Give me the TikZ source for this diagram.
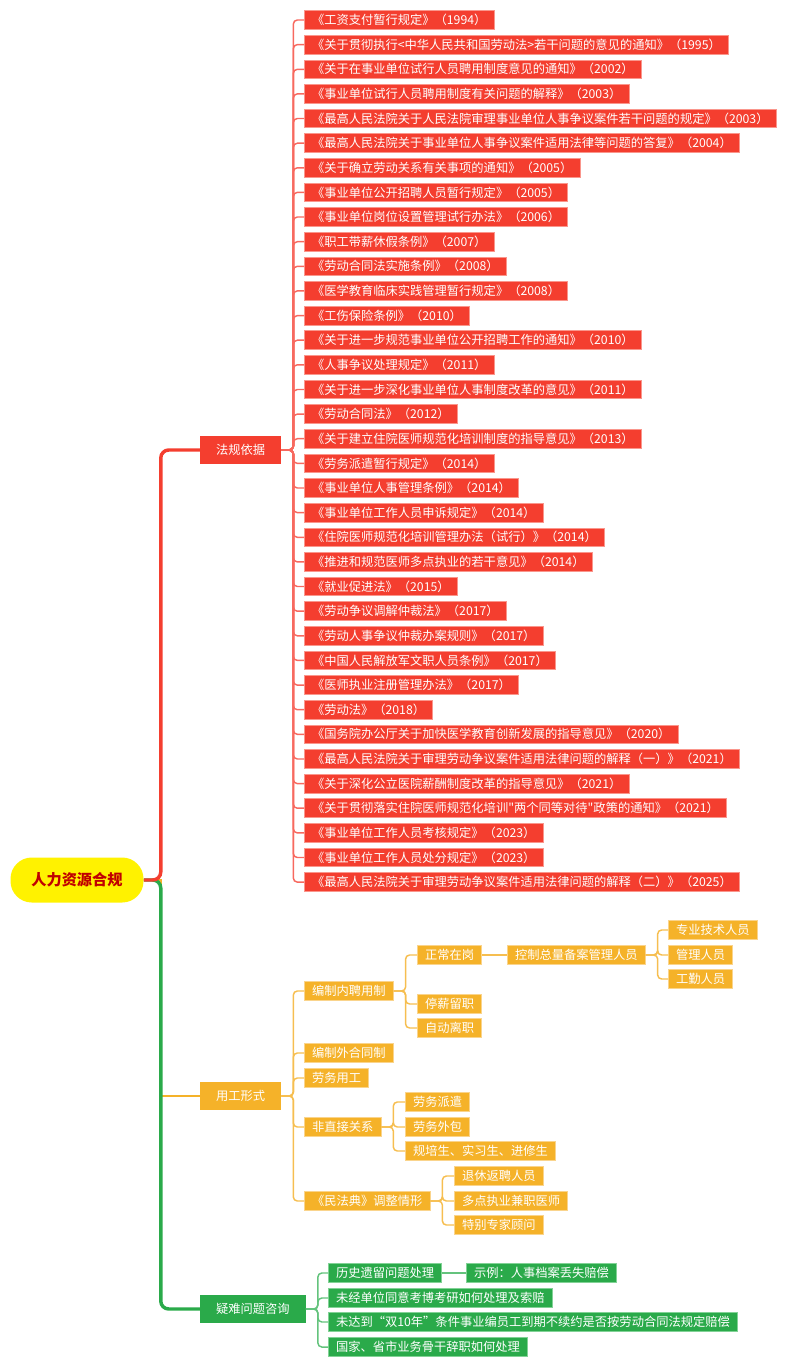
\documentclass[tikz,border=0pt]{standalone}
\usepackage{fontspec}
\setmainfont{Noto Sans CJK SC}
\definecolor{fgred}{RGB}{244,62,47}
\definecolor{fgedge}{RGB}{250,150,140}
\definecolor{fgline}{RGB}{247,105,95}
\definecolor{ygorange}{RGB}{245,178,41}
\definecolor{ygedge}{RGB}{250,212,140}
\definecolor{ygline}{RGB}{246,190,80}
\definecolor{yngreen}{RGB}{42,170,74}
\definecolor{ynedge}{RGB}{130,210,150}
\definecolor{ynline}{RGB}{100,195,125}
\definecolor{rootred}{RGB}{192,0,0}

\tikzset{
  box/.style={anchor=west, text=white, line width=0.6pt, minimum height=14pt,
    inner xsep=5.7pt, inner ysep=0pt, font=\fontsize{9.2}{11}\selectfont},
  law/.style={box, fill=fgred, draw=fgedge},
  ygbox/.style={box, fill=ygorange, draw=ygedge},
  ynbox/.style={box, fill=yngreen, draw=ynedge},
  branch/.style={anchor=west, text=white, minimum height=21pt, inner xsep=11.9pt,
    inner ysep=0pt, font=\fontsize{9.2}{11}\selectfont},
  sub/.style={line width=1.1pt, rounded corners=3pt},
}

\begin{document}
\begin{tikzpicture}[x=0.75pt, y=-0.75pt]
\useasboundingbox (0,0) rectangle (800,1367);

% root and first level
\node [fill=yellow, rounded corners=16pt, minimum width=99.75pt, minimum height=33.75pt,
  text=rootred, font=\fontsize{11.4}{13}\selectfont\bfseries] (root) at (77,880) {人力资源合规};
\node [branch, fill=fgred] (fg) at (200,450) {法规依据};
\node [branch, fill=ygorange] (yg) at (200,1096) {用工形式};
\node [branch, fill=yngreen] (yn) at (200,1309) {疑难问题咨询};

% laws
\node [law] (l1) at (304,20) {《工资支付暂行规定》（1994）};
\node [law] (l2) at (304,44.6) {《关于贯彻执行<中华人民共和国劳动法>若干问题的意见的通知》（1995）};
\node [law] (l3) at (304,69.3) {《关于在事业单位试行人员聘用制度意见的通知》（2002）};
\node [law] (l4) at (304,93.9) {《事业单位试行人员聘用制度有关问题的解释》（2003）};
\node [law] (l5) at (304,118.5) {《最高人民法院关于人民法院审理事业单位人事争议案件若干问题的规定》（2003）};
\node [law] (l6) at (304,143.2) {《最高人民法院关于事业单位人事争议案件适用法律等问题的答复》（2004）};
\node [law] (l7) at (304,167.8) {《关于确立劳动关系有关事项的通知》（2005）};
\node [law] (l8) at (304,192.4) {《事业单位公开招聘人员暂行规定》（2005）};
\node [law] (l9) at (304,217.0) {《事业单位岗位设置管理试行办法》（2006）};
\node [law] (l10) at (304,241.7) {《职工带薪休假条例》（2007）};
\node [law] (l11) at (304,266.3) {《劳动合同法实施条例》（2008）};
\node [law] (l12) at (304,290.9) {《医学教育临床实践管理暂行规定》（2008）};
\node [law] (l13) at (304,315.6) {《工伤保险条例》（2010）};
\node [law] (l14) at (304,340.2) {《关于进一步规范事业单位公开招聘工作的通知》（2010）};
\node [law] (l15) at (304,364.8) {《人事争议处理规定》（2011）};
\node [law] (l16) at (304,389.5) {《关于进一步深化事业单位人事制度改革的意见》（2011）};
\node [law] (l17) at (304,414.1) {《劳动合同法》（2012）};
\node [law] (l18) at (304,438.7) {《关于建立住院医师规范化培训制度的指导意见》（2013）};
\node [law] (l19) at (304,463.4) {《劳务派遣暂行规定》（2014）};
\node [law] (l20) at (304,488.0) {《事业单位人事管理条例》（2014）};
\node [law] (l21) at (304,512.6) {《事业单位工作人员申诉规定》（2014）};
\node [law] (l22) at (304,537.3) {《住院医师规范化培训管理办法（试行）》（2014）};
\node [law] (l23) at (304,561.9) {《推进和规范医师多点执业的若干意见》（2014）};
\node [law] (l24) at (304,586.5) {《就业促进法》（2015）};
\node [law] (l25) at (304,611.2) {《劳动争议调解仲裁法》（2017）};
\node [law] (l26) at (304,635.8) {《劳动人事争议仲裁办案规则》（2017）};
\node [law] (l27) at (304,660.4) {《中国人民解放军文职人员条例》（2017）};
\node [law] (l28) at (304,685.1) {《医师执业注册管理办法》（2017）};
\node [law] (l29) at (304,709.7) {《劳动法》（2018）};
\node [law] (l30) at (304,734.3) {《国务院办公厅关于加快医学教育创新发展的指导意见》（2020）};
\node [law] (l31) at (304,759.0) {《最高人民法院关于审理劳动争议案件适用法律问题的解释（一）》（2021）};
\node [law] (l32) at (304,783.6) {《关于深化公立医院薪酬制度改革的指导意见》（2021）};
\node [law] (l33) at (304,808.2) {《关于贯彻落实住院医师规范化培训\textquotedbl 两个同等对待\textquotedbl 政策的通知》（2021）};
\node [law] (l34) at (304,832.9) {《事业单位工作人员考核规定》（2023）};
\node [law] (l35) at (304,857.5) {《事业单位工作人员处分规定》（2023）};
\node [law] (l36) at (304,882.1) {《最高人民法院关于审理劳动争议案件适用法律问题的解释（二）》（2025）};

% employment forms
\node [ygbox] (bz) at (304,991) {编制内聘用制};
\node [ygbox] (zc) at (417,955) {正常在岗};
\node [ygbox] (kz) at (507,955) {控制总量备案管理人员};
\node [ygbox] (zj) at (668,930) {专业技术人员};
\node [ygbox] (gl) at (668,955) {管理人员};
\node [ygbox] (gq) at (668,979) {工勤人员};
\node [ygbox] (tx) at (417,1004) {停薪留职};
\node [ygbox] (zd) at (417,1028) {自动离职};
\node [ygbox] (bw) at (304,1053) {编制外合同制};
\node [ygbox] (lw) at (304,1078) {劳务用工};
\node [ygbox] (fz) at (304,1127) {非直接关系};
\node [ygbox] (pq) at (405,1102) {劳务派遣};
\node [ygbox] (wb) at (405,1127) {劳务外包};
\node [ygbox] (gp) at (405,1151) {规培生、实习生、进修生};
\node [ygbox] (mf) at (304,1201) {《民法典》调整情形};
\node [ygbox] (tf) at (454,1176) {退休返聘人员};
\node [ygbox] (dd) at (454,1201) {多点执业兼职医师};
\node [ygbox] (tb) at (454,1225) {特别专家顾问};

% hard questions
\node [ynbox] (ls) at (328,1273) {历史遗留问题处理};
\node [ynbox] (sl) at (466,1273) {示例：人事档案丢失赔偿};
\node [ynbox] (wj) at (328,1298) {未经单位同意考博考研如何处理及索赔};
\node [ynbox] (wd) at (328,1322) {未达到“双10年”条件事业编员工到期不续约是否按劳动合同法规定赔偿};
\node [ynbox] (gj) at (328,1347) {国家、省市业务骨干辞职如何处理};

% main branches
\draw [ygorange, line width=1.9pt] (root.east) -- ++(17,0) |- (yg.west);
\draw [yngreen, line width=2.6pt, rounded corners=6pt] (root.east) -- ++(17,0) |- (yn.west);
\draw [fgred, line width=2.6pt, rounded corners=6pt] (root.east) -- ++(17,0) |- (fg.west);

% sub branches
\foreach \i in {1,...,36}
  \draw [sub, fgline] (fg.east) -- ++(12,0) |- (l\i.west);
\foreach \c in {bz,bw,lw,fz,mf}
  \draw [sub, ygline] (yg.east) -- ++(12,0) |- (\c.west);
\foreach \c in {zc,tx,zd}
  \draw [sub, ygline] (bz.east) -- ++(12,0) |- (\c.west);
\draw [sub, ygline] (zc.east) -- (kz.west);
\foreach \c in {zj,gl,gq}
  \draw [sub, ygline] (kz.east) -- ++(12,0) |- (\c.west);
\foreach \c in {pq,wb,gp}
  \draw [sub, ygline] (fz.east) -- ++(12,0) |- (\c.west);
\foreach \c in {tf,dd,tb}
  \draw [sub, ygline] (mf.east) -- ++(12,0) |- (\c.west);
\foreach \c in {ls,wj,wd,gj}
  \draw [sub, ynline] (yn.east) -- ++(12,0) |- (\c.west);
\draw [sub, ynline] (ls.east) -- (sl.west);
\end{tikzpicture}
\end{document}
